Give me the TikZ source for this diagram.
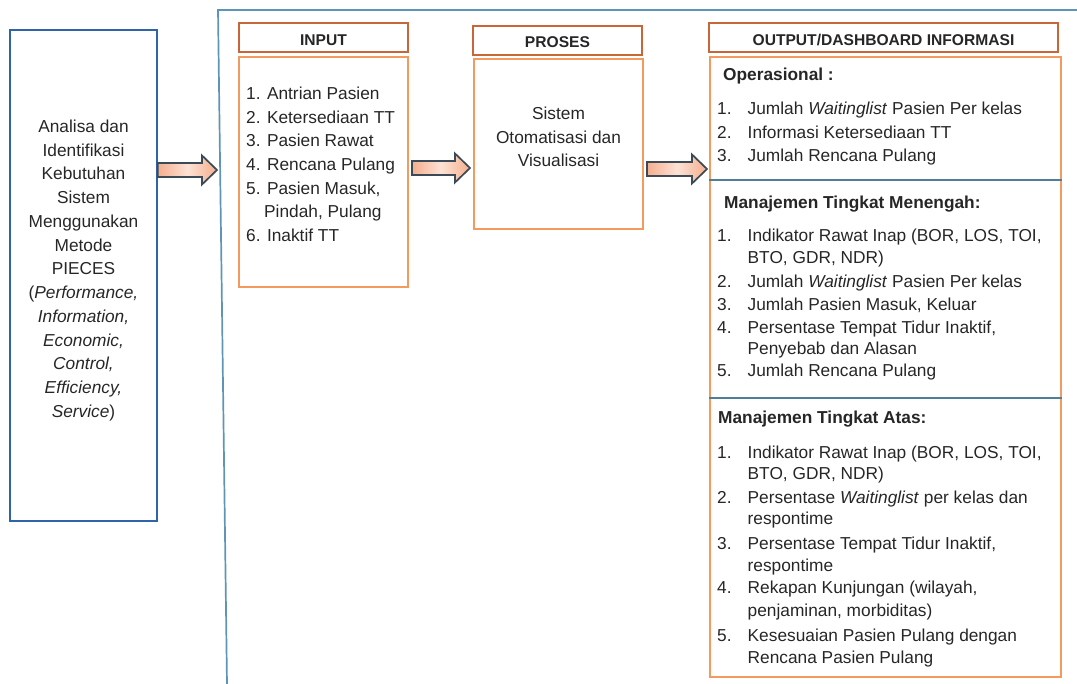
\documentclass[tikz,border=0pt]{standalone}
\usepackage{fontspec}
\setmainfont{Liberation Sans}
\usetikzlibrary{calc}

\definecolor{leftblue}{HTML}{2F64A8}
\definecolor{frameblue}{HTML}{5E95B6}
\definecolor{hdrorange}{HTML}{C8663A}
\definecolor{bodyorange}{HTML}{F39A5E}
\definecolor{divblue}{HTML}{4F7F98}
\definecolor{arrowline}{HTML}{3B4A56}
\definecolor{arrowdark}{HTML}{F4AE8E}
\definecolor{arrowlight}{HTML}{FDE2D4}
\definecolor{ink}{HTML}{262626}

% block arrow from coordinate #1 (tail) to coordinate #2 (tip)
\newcommand\blockarrow[2]{%
  \path[blockarrow] let \p1=(#1), \p2=(#2) in
    (\x1,\y1+7pt) -- (\x2-15pt,\y1+7pt) -- (\x2-15pt,\y1+14.5pt) -- (\x2,\y1)
    -- (\x2-15pt,\y1-14.5pt) -- (\x2-15pt,\y1-7pt) -- (\x1,\y1-7pt) -- cycle;}

% numbered entry: name, baseline, number, text
\newcommand\entry[4]{%
  \node[txt] (#1n) at (717,#2) {#3};
  \node[txt] (#1t) at (747.5,#2) {#4};}
% continuation line of an entry
\newcommand\contline[3]{\node[txt] (#1) at (747.5,#2) {#3};}

\begin{document}
\begin{tikzpicture}[x=1pt,y=-1pt,
  every node/.style={text=ink},
  txt/.style={anchor=base west, inner sep=0pt, font=\fontsize{17.3}{22}\selectfont},
  ctxt/.style={anchor=base, inner sep=0pt, font=\fontsize{17.3}{22}\selectfont},
  htxt/.style={anchor=base, inner sep=0pt, font=\fontsize{15.6}{18}\selectfont\bfseries},
  btxt/.style={anchor=base west, inner sep=0pt, font=\fontsize{17.3}{22}\selectfont\bfseries},
  leftbox/.style={draw=leftblue, line width=1.3pt, inner sep=0pt},
  hdrbox/.style={draw=hdrorange, line width=1.7pt, inner sep=0pt},
  bodybox/.style={draw=bodyorange, line width=1.4pt, inner sep=0pt},
  frame/.style={draw=frameblue, line width=1.7pt},
  divider/.style={draw=divblue, line width=1.5pt},
  blockarrow/.style={draw=arrowline, line width=1.7pt, line join=miter,
    left color=arrowdark, right color=arrowdark, middle color=arrowlight}]

\useasboundingbox (0,0) rectangle (1077,684);

% outer frame around the three stages
\coordinate (frameTR) at (1077,10);
\coordinate (frameTL) at (218,10);
\coordinate (frameBL) at (227,684);
\draw[frame] (frameTR) -- (frameTL) -- (frameBL);

% analysis box
\node[leftbox, minimum width=147, minimum height=491] (left) at (83.5,275.5) {};
\foreach \t [count=\i from 0] in {Analisa dan, Identifikasi, Kebutuhan, Sistem,
    Menggunakan, Metode, PIECES, {(\textit{Performance,}}, \textit{Information,},
    \textit{Economic,}, \textit{Control,}, \textit{Efficiency,}, {\textit{Service})}}
  \node[ctxt] (lt\i) at (83.5,{132.5+23.75*\i}) {\t};

% input stage
\node[hdrbox, minimum width=169, minimum height=29] (inhead) at (323.5,37.5) {};
\node[htxt] (inlbl) at (323.5,45.7) {INPUT};
\node[bodybox, minimum width=169, minimum height=230] (inbody) at (323.5,172) {};
\node[txt] (in1) at (246,99.5) {1. Antrian Pasien};
\node[txt] (in2) at (246,123.2) {2. Ketersediaan TT};
\node[txt] (in3) at (246,146.9) {3. Pasien Rawat};
\node[txt] (in4) at (246,170.6) {4. Rencana Pulang};
\node[txt] (in5) at (246,194.3) {5. Pasien Masuk,};
\node[txt] (in5b) at (264,218) {Pindah, Pulang};
\node[txt] (in6) at (246,241.7) {6. Inaktif TT};

% process stage
\node[hdrbox, minimum width=169, minimum height=29] (prhead) at (557.5,40.5) {};
\node[htxt] (prlbl) at (557.5,47.3) {PROSES};
\node[bodybox, minimum width=169, minimum height=170] (prbody) at (558.5,144) {};
\node[ctxt] (pr1) at (558.5,120) {Sistem};
\node[ctxt] (pr2) at (558.5,143.3) {Otomatisasi dan};
\node[ctxt] (pr3) at (558.5,166.7) {Visualisasi};

% output stage
\node[hdrbox, minimum width=349, minimum height=29] (outhead) at (883.5,37.5) {};
\node[htxt] (outlbl) at (883.5,45.7) {OUTPUT/DASHBOARD INFORMASI};
\node[bodybox, minimum width=351, minimum height=620] (outbody) at (885.5,367) {};
\coordinate (div1) at (0,180);
\coordinate (div2) at (0,398);
\draw[divider] (outbody.west |- div1) -- (outbody.east |- div1);
\draw[divider] (outbody.west |- div2) -- (outbody.east |- div2);

% operational level
\node[btxt] (ophead) at (723,81) {Operasional :};
\entry{opa}{115}{1.}{Jumlah \textit{Waitinglist} Pasien Per kelas}
\entry{opb}{138.3}{2.}{Informasi Ketersediaan TT}
\entry{opc}{161.7}{3.}{Jumlah Rencana Pulang}

% middle management
\node[btxt] (mdhead) at (724,208.3) {Manajemen Tingkat Menengah:};
\entry{mda}{241.7}{1.}{Indikator Rawat Inap (BOR, LOS, TOI,}
\contline{mdab}{263.3}{BTO, GDR, NDR)}
\entry{mdb}{287.7}{2.}{Jumlah \textit{Waitinglist} Pasien Per kelas}
\entry{mdc}{310.7}{3.}{Jumlah Pasien Masuk, Keluar}
\entry{mdd}{333.3}{4.}{Persentase Tempat Tidur Inaktif,}
\contline{mddb}{355}{Penyebab dan Alasan}
\entry{mde}{376.7}{5.}{Jumlah Rencana Pulang}

% top management
\node[btxt] (tphead) at (718,423.3) {Manajemen Tingkat Atas:};
\entry{tpa}{458.3}{1.}{Indikator Rawat Inap (BOR, LOS, TOI,}
\contline{tpab}{480}{BTO, GDR, NDR)}
\entry{tpb}{503.3}{2.}{Persentase \textit{Waitinglist} per kelas dan}
\contline{tpbb}{525}{respontime}
\entry{tpc}{550}{3.}{Persentase Tempat Tidur Inaktif,}
\contline{tpcb}{571.7}{respontime}
\entry{tpd}{593.3}{4.}{Rekapan Kunjungan (wilayah,}
\contline{tpdb}{616.7}{penjaminan, morbiditas)}
\entry{tpe}{641.7}{5.}{Kesesuaian Pasien Pulang dengan}
\contline{tpeb}{663.3}{Rencana Pasien Pulang}

% flow arrows between the stages
\coordinate (a1tail) at (left.east |- 0,170);
\coordinate (a1tip) at (217,170);
\coordinate (a2tail) at (412,168);
\coordinate (a2tip) at (470,168);
\coordinate (a3tail) at (647,169);
\coordinate (a3tip) at (707,169);
\blockarrow{a1tail}{a1tip}
\blockarrow{a2tail}{a2tip}
\blockarrow{a3tail}{a3tip}

\end{tikzpicture}
\end{document}
